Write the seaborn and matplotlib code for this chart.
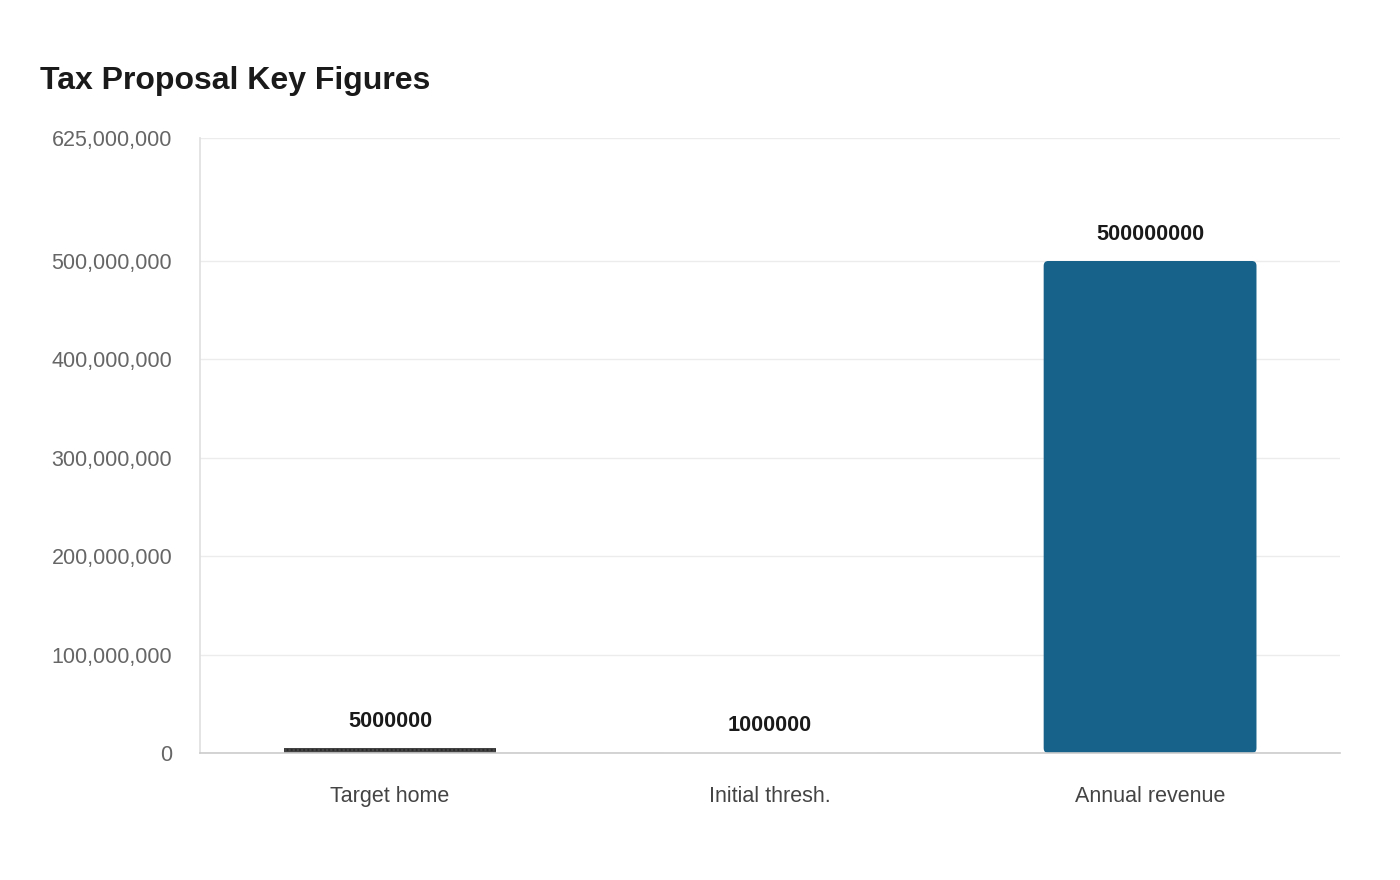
import matplotlib
matplotlib.use("Agg")
import matplotlib.pyplot as plt
import seaborn as sns
import pandas as pd
from matplotlib.patches import FancyBboxPatch
from matplotlib.ticker import FuncFormatter

categories = ["Target home", "Initial thresh.", "Annual revenue"]
values = [5000000, 1000000, 500000000]
bar_colors = ["#444444", "#3a7ca5", "#17628a"]
y_ticks = [0, 100000000, 200000000, 300000000, 400000000, 500000000, 625000000]

df = pd.DataFrame({"category": categories, "value": values})

sns.set_theme(style="white")
plt.rcParams["font.family"] = ["Liberation Sans", "DejaVu Sans"]

fig = plt.figure(figsize=(14, 8.8), dpi=100)
ax = fig.add_axes([0.1429, 0.1443, 0.8143, 0.6989])

sns.barplot(data=df, x="category", y="value", hue="category", palette=bar_colors,
            width=0.56, legend=False, ax=ax, saturation=1)

ax.set_ylim(0, 625000000)
ax.set_xlim(-0.5, 2.5)

# dotted look on the first bar
ax.patches[0].set_hatch("....")
ax.patches[0].set_edgecolor("#2a2a2a")
ax.patches[0].set_linewidth(0)

# rounded corners on the tall bar
big = ax.patches[2]
x0, y0, w, h = big.get_x(), big.get_y(), big.get_width(), big.get_height()
big.set_visible(False)
ax.add_patch(FancyBboxPatch((x0, y0), w, h, boxstyle="round,pad=0,rounding_size=0.012",
                            mutation_aspect=4.1e8, facecolor=bar_colors[2],
                            edgecolor="none", zorder=big.get_zorder()))

for i, v in enumerate(values):
    ax.annotate(str(v), (i, v), xytext=(0, 11.5), textcoords="offset points",
                ha="center", va="bottom", fontsize=15.6, fontweight="bold", color="#1a1a1a")

ax.set_yticks(y_ticks)
ax.yaxis.set_major_formatter(FuncFormatter(lambda v, p: f"{int(v):,}"))
ax.grid(axis="y", color="#ececec", linewidth=1)
ax.set_axisbelow(True)
ax.tick_params(axis="y", length=11, color="#ececec", labelsize=15.5, labelcolor="#666666", pad=9)
ax.tick_params(axis="x", length=0, labelsize=15.5, labelcolor="#444444", pad=23.5)
ax.set_xlabel("")
ax.set_ylabel("")
for s in ["top", "right"]:
    ax.spines[s].set_visible(False)
ax.spines["left"].set_color("#e0e0e0")
ax.spines["bottom"].set_color("#cccccc")
ax.spines["bottom"].set_linewidth(1.2)

fig.text(40 / 1400, 1 - 81 / 880, "Tax Proposal Key Figures", fontsize=23,
         fontweight="bold", color="#1a1a1a", va="center", ha="left")

fig.savefig("out.png", dpi=100, facecolor="white")
